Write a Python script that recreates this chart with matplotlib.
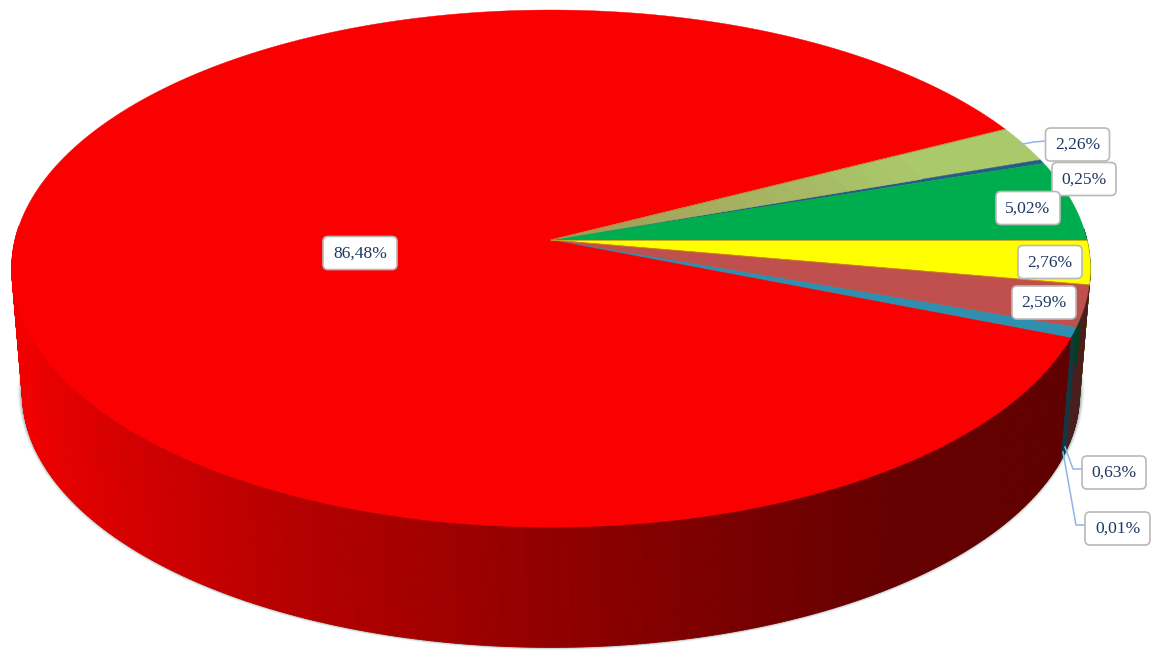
import numpy as np
import matplotlib
matplotlib.use("Agg")
import matplotlib.pyplot as plt
from matplotlib.collections import PolyCollection
from matplotlib.colors import to_rgb
from matplotlib.patches import FancyBboxPatch, Polygon

plt.rcParams["font.family"] = ["Liberation Serif", "DejaVu Serif"]

# Data, clockwise from the 3 o'clock direction
values = [2.76, 2.59, 0.63, 0.01, 86.48, 2.26, 0.25, 5.02]
colors = ["#ffff00", "#c0504d", "#2f8fae", "#4f81bd",
          "#fb0000", "#a9c96b", "#275d85", "#00ad4e"]

# label box centres in pixels, same order as values
label_xy = [(1050, 262), (1044, 302.5), (1114, 472.5), (1117.5, 528.5),
            (360, 253), (1077.5, 144.5), (1084, 179), (1028, 208)]
label_w = [64, 64, 64, 65, 74, 64, 64, 64]

# leader lines
leaders = [
    [(1046, 141), (1034, 142), (1023, 144)],
    [(1082, 469), (1073, 469), (1065, 447)],
    [(1085, 525), (1076, 525), (1063, 452)],
]

# pie geometry (pixels): perspective view of a disc
APEX_X, APEX_Y = 551, 240
A, B, K = 536.0, 255.4, 0.1105
DEPTH, BOTTOM_SCALE = 126, 0.98


def project(theta, scale=1.0, dy=0.0, radius=1.0):
    # theta in radians, counter clockwise, circle -> ellipse with perspective
    u, v = radius * np.cos(theta), radius * np.sin(theta)
    w = 1 + K * v
    return APEX_X + scale * A * u / w, APEX_Y + dy - scale * B * v / w


fig = plt.figure(figsize=(11.52, 6.5), dpi=100)
ax = fig.add_axes([0, 0, 1, 1])
ax.set_xlim(0, 1152)
ax.set_ylim(650, 0)
ax.axis("off")

# thin soft shadow around the wall
t_all = np.linspace(0, 2 * np.pi, 721)
for grow, alpha in [(5, 0.06), (4, 0.09), (3, 0.13), (2, 0.18), (1, 0.25)]:
    sx, sy = project(t_all, BOTTOM_SCALE + grow / A, DEPTH - 5)
    ax.add_patch(Polygon(np.c_[sx, sy], closed=True, fc="#5f7a78", ec="none",
                         alpha=alpha, zorder=1))
    sx, sy = project(t_all, BOTTOM_SCALE + (grow - 2) / A, DEPTH + 1)
    ax.add_patch(Polygon(np.c_[sx, sy], closed=True, fc="#5f7a78", ec="none",
                         alpha=alpha, zorder=1))

edges = np.r_[0, np.cumsum(values)] / 100 * 2 * np.pi

# side wall, darker to the right
quads, quad_cols = [], []
for i, col in enumerate(colors):
    n = max(2, int((edges[i + 1] - edges[i]) / np.radians(0.4)))
    th = -np.linspace(edges[i], edges[i + 1], n)
    for t0, t1 in zip(th[:-1], th[1:]):
        x0, y0 = project(t0)
        x1, y1 = project(t1)
        x2, y2 = project(t1, BOTTOM_SCALE, DEPTH)
        x3, y3 = project(t0, BOTTOM_SCALE, DEPTH)
        if np.sin(t0) > 0.05:
            continue
        shade = np.interp(x0, [20, 100, 200, 280, 550, 800, 880, 1090],
                          [0.96, 0.87, 0.79, 0.73, 0.58, 0.45, 0.41, 0.38])
        quads.append([(x0, y0), (x1, y1), (x2, y2), (x3, y3)])
        quad_cols.append(tuple(np.array(to_rgb(col)) * shade))
ax.add_collection(PolyCollection(quads, facecolors=quad_cols, edgecolors=quad_cols,
                                 linewidths=0.6, zorder=2))

# top face
for i, col in enumerate(colors):
    n = max(2, int((edges[i + 1] - edges[i]) / np.radians(0.25)))
    th = -np.linspace(edges[i], edges[i + 1], n)
    px, py = project(th)
    pts = np.r_[[(APEX_X, APEX_Y)], np.c_[px, py]]
    ax.add_patch(Polygon(pts, closed=True, fc=col, ec=col, lw=0.3, zorder=3))

# the light green slice fades to a dull olive towards the middle
i_green = colors.index("#a9c96b")
th = -np.linspace(edges[i_green], edges[i_green + 1], 30)
rings = np.linspace(0, 0.75, 16)
for r0, r1 in zip(rings[:-1], rings[1:]):
    mix = r0 / 0.75
    col = np.array(to_rgb("#a39a58")) * (1 - mix) + np.array(to_rgb(colors[i_green])) * mix
    x_in, y_in = project(th, radius=r0)
    x_out, y_out = project(th, radius=r1)
    pts = np.r_[np.c_[x_in, y_in], np.c_[x_out, y_out][::-1]]
    ax.add_patch(Polygon(pts, closed=True, fc=col, ec=col, lw=0.3, zorder=3.1))

# darker seams where slices meet
seam_cols = {1: "#d08a10", 8: "#c9a020", 5: "#c07a30"}
for k, col in seam_cols.items():
    x_e, y_e = project(-edges[k % len(values)] if k < 8 else 0.0)
    ax.plot([APEX_X, x_e], [APEX_Y, y_e], color=col, lw=0.7, alpha=0.8, zorder=3.2)

for line in leaders:
    xs, ys = zip(*line)
    ax.plot(xs, ys, color="#8fb4e8", lw=1.1, zorder=4)

# labels
for val, (cx, cy), w in zip(values, label_xy, label_w):
    h = 33
    ax.add_patch(FancyBboxPatch((cx - w / 2 + 4, cy - h / 2 + 4), w - 8, h - 8,
                                boxstyle="round,pad=4,rounding_size=5",
                                fc="white", ec="#b9b9b9", lw=1.2, zorder=5))
    ax.text(cx, cy + 0.5, f"{val:.2f}%".replace(".", ","), ha="center", va="center",
            fontsize=12.6, color="#1f3864", zorder=6)

fig.savefig("out.png", dpi=100)
